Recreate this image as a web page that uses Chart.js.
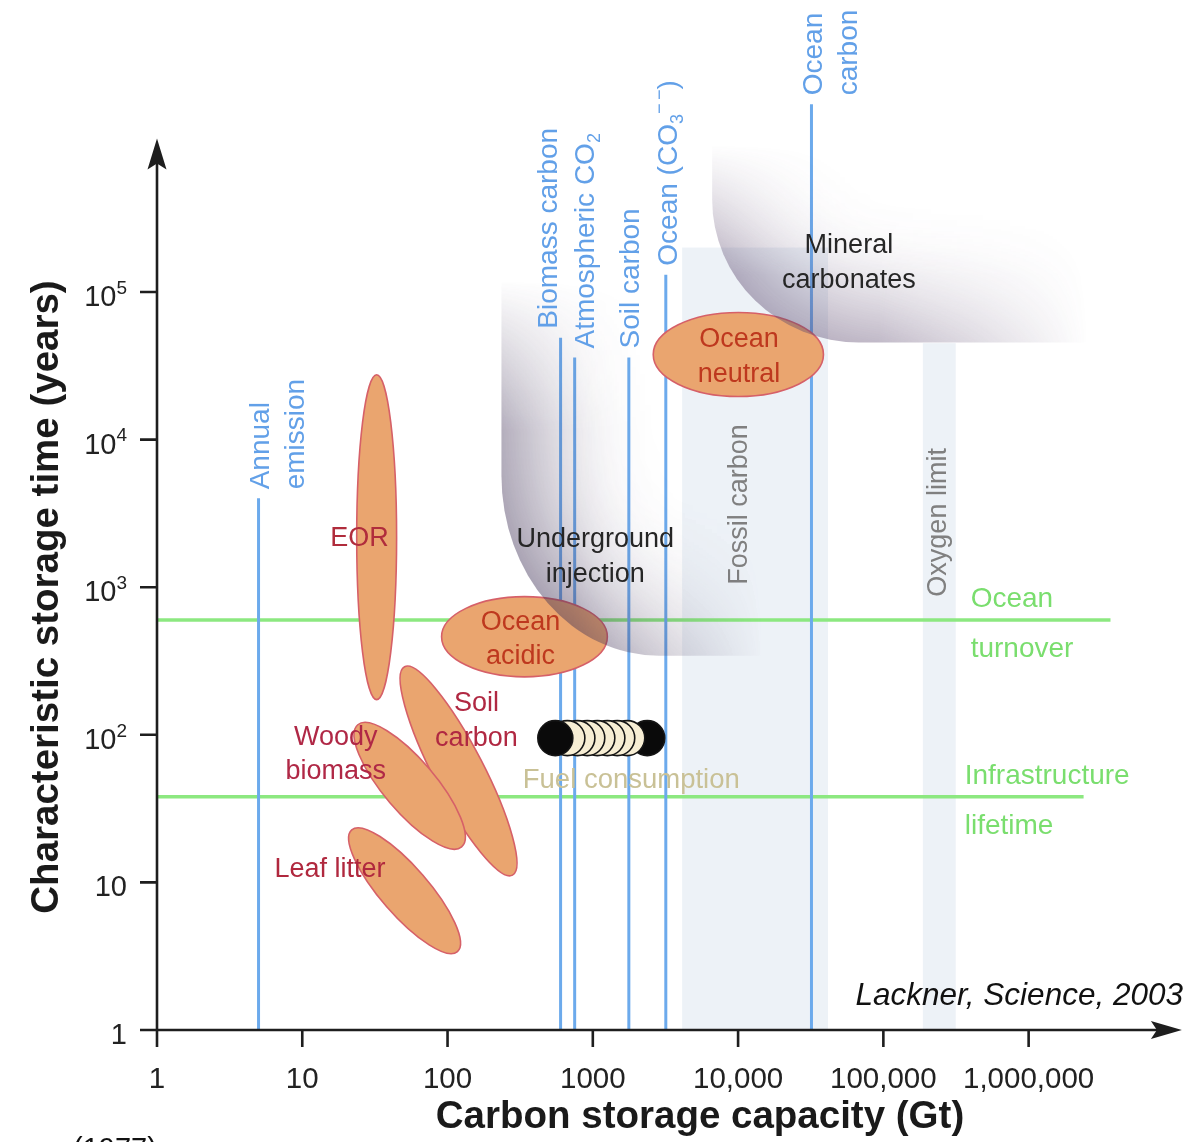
<!DOCTYPE html>
<html>
<head>
<meta charset="utf-8">
<title>Carbon storage capacity vs. storage time</title>
<script src="https://cdn.jsdelivr.net/npm/chart.js@4.4.1/dist/chart.umd.min.js"></script>
<style>
  html, body { margin: 0; padding: 0; background: #fff; overflow: hidden; }
  canvas { display: block; }
</style>
</head>
<body>
<canvas id="chart" width="1193" height="1142"></canvas>
<script>
// Carbon reservoirs and storage options: capacity (Gt C) against characteristic storage time (years)

// Axis ticks
const xTickValues = [1, 10, 100, 1000, 10000, 100000, 1000000];
const xTickLabels = ['1', '10', '100', '1000', '10,000', '100,000', '1,000,000'];
const yTickValues = [1, 10, 100, 1000, 10000, 100000];
const yTickBase = ['1', '10', '10', '10', '10', '10'];
const yTickPower = ['', '', '2', '3', '4', '5'];

// Natural carbon pools: size (Gt) and how far up their marker reaches (years)
const poolNames = ['Annual emission', 'Biomass carbon', 'Atmospheric CO2', 'Soil carbon', 'Ocean (CO3--)', 'Ocean carbon'];
const poolCapacity = [5, 600, 750, 1770, 3180, 32000];
const poolLineTop = [4000, 49000, 36000, 36000, 131000, 1870000];

// Reference time scales (years)
const timeScaleNames = ['Ocean turnover', 'Infrastructure lifetime'];
const timeScaleYears = [600, 38];
const timeScaleReach = [3660000, 2390000];

// Resource limits: capacity range (Gt) and time ceiling (years)
const limitNames = ['Fossil carbon', 'Oxygen limit'];
const limitFrom = [4120, 187000];
const limitTo = [41600, 315000];
const limitTop = [200000, 45000];

// Storage options with upright ovals: capacity range and time range
const ovalNames = ['EOR', 'Ocean acidic', 'Ocean neutral'];
const ovalCapMin = [23.7, 91, 2606];
const ovalCapMax = [44.6, 1259, 38700];
const ovalTimeMin = [173, 247, 19600];
const ovalTimeMax = [27500, 863, 72600];

// Storage options with tilted ovals: the two ends of the long axis
const slantNames = ['Soil carbon', 'Woody biomass', 'Leaf litter'];
const slantCapA = [50.6, 24.1, 21.9];
const slantTimeA = [289, 117, 22.7];
const slantCapB = [280, 125, 117];
const slantTimeB = [11.2, 17.4, 3.4];

// Open-ended options: capacity / time where the shaded corner starts, bends and ends
const regionNames = ['Underground injection', 'Mineral carbonates'];
const regionCapMin = [235, 6630];
const regionCapBend = [2865, 67900];
const regionCapMax = [15100, 2580000];
const regionTimeMin = [343, 45500];
const regionTimeBend = [5700, 424000];
const regionTimeMax = [120600, 1000000];

// Fuel consumption discs (Gt burned, drawn back to front)
const fuelCapacity = [2370, 1727, 1473, 1259, 1074, 916, 783, 668, 552];
const fuelTime = [95, 95, 95, 95, 95, 95, 95, 95, 95];
const fuelKind = ['end', 'step', 'step', 'step', 'step', 'step', 'step', 'step', 'end'];

// ---------------------------------------------------------------- styles
const FONT = '"Liberation Sans", Arial, Helvetica, sans-serif';
const BLUE = 'rgb(108,170,236)';
const BLUE_TEXT = 'rgb(98,160,232)';
const GREEN = 'rgb(140,232,128)';
const GREEN_TEXT = 'rgb(122,222,110)';
const OVAL_FILL = 'rgb(234,165,111)';
const OVAL_EDGE = 'rgb(214,96,104)';
const BAND_FILL = 'rgba(228,235,242,0.65)';
const AXIS = '#1e1e1e';

// Text annotations anchored in data units (capacity, time)
const annotations = [
  { lines: ['Mineral', 'carbonates'], x: 57900, y: 163000, color: '#262626' },
  { lines: ['Underground', 'injection'], x: 1040, y: 1660, color: '#262626' },
  { lines: ['Ocean', 'neutral'], x: 10160, y: 37700, color: 'rgb(190,56,30)' },
  { lines: ['Ocean', 'acidic'], x: 318, y: 458, color: 'rgb(190,56,30)' },
  { lines: ['EOR'], x: 24.8, y: 2200, color: 'rgb(176,44,60)' },
  { lines: ['Soil', 'carbon'], x: 158, y: 128, color: 'rgb(176,40,66)' },
  { lines: ['Woody', 'biomass'], x: 17, y: 76, color: 'rgb(176,40,70)' },
  { lines: ['Leaf litter'], x: 15.5, y: 12.7, color: 'rgb(176,40,62)' },
  { lines: ['Fuel consumption'], x: 1840, y: 51, color: 'rgb(201,193,150)', size: 27.5 }
];

// Rotated pool captions: text pieces per column
const poolCaptions = [
  [[{ t: 'Annual' }], [{ t: 'emission' }]],
  [[{ t: 'Biomass carbon' }]],
  [[{ t: 'Atmospheric CO' }, { t: '2', sub: true }]],
  [[{ t: 'Soil carbon' }]],
  [[{ t: 'Ocean (CO' }, { t: '3', sub: true }, { t: '\u2212\u2009\u2212', sup: true }, { t: ')' }]],
  [[{ t: 'Ocean' }], [{ t: 'carbon' }]]
];
const poolCaptionShift = [0, -14, 9, 0, 1, 1];

const limitCaptionX = [9840, 229000];
const limitCaptionBottom = [1040, 863];

const timeScaleCaptions = [['Ocean', 'turnover'], ['Infrastructure', 'lifetime']];
const timeScaleCaptionX = [399000, 363000];

const slantHalfWidth = [25, 26, 24];
const regionShade = {
  color: ['rgb(66,52,88)', 'rgb(92,72,110)'],
  blur: [72, 66],
  alpha: [0.78, 0.72],
  fadeTop: [150, 130],
  fadeRight: [190, 210]
};

// ---------------------------------------------------------------- helpers
function richText(ctx, parts, x, y, size, align, extra) {
  const pre = extra || '';
  const small = Math.round(size * 0.66);
  const fontFor = p => `${pre} ${(p.sub || p.sup) ? small : size}px ${FONT}`;
  let total = 0;
  parts.forEach(p => { ctx.font = fontFor(p); total += ctx.measureText(p.t).width; });
  let cx = align === 'center' ? x - total / 2 : align === 'right' ? x - total : x;
  ctx.textAlign = 'left';
  ctx.textBaseline = 'alphabetic';
  parts.forEach(p => {
    ctx.font = fontFor(p);
    const dy = p.sub ? size * 0.22 : p.sup ? -size * 0.42 : 0;
    ctx.fillText(p.t, cx, y + dy);
    cx += ctx.measureText(p.t).width;
  });
}

// Soft corner-shaped region: darkest along its curved outer edge, fading inward
function drawRegion(chart, i) {
  const ctx = chart.ctx;
  const sx = v => chart.scales.x.getPixelForValue(v);
  const sy = v => chart.scales.y.getPixelForValue(v);
  const W = chart.width, H = chart.height;
  const M = 400;
  const xL = sx(regionCapMin[i]) + M, xB = sx(regionCapBend[i]) + M, xR = sx(regionCapMax[i]) + M;
  const yB = sy(regionTimeMin[i]) + M, yK = sy(regionTimeBend[i]) + M, yT = sy(regionTimeMax[i]) + M;
  const CW = W + 2 * M, CH = H + 2 * M;

  const trace = c => {
    c.moveTo(xL, -10);
    c.lineTo(xL, yK);
    c.ellipse(xB, yK, xB - xL, yB - yK, 0, Math.PI, Math.PI / 2, true);
    c.lineTo(CW + 10, yB);
    c.lineTo(CW + 10, -10);
    c.closePath();
  };

  // everything outside the region, solid
  const outside = document.createElement('canvas');
  outside.width = CW; outside.height = CH;
  const a = outside.getContext('2d');
  a.fillStyle = regionShade.color[i];
  a.beginPath();
  a.rect(0, 0, CW, CH);
  trace(a);
  a.fill('evenodd');

  // blur it and keep only the part that bleeds into the region
  const soft = document.createElement('canvas');
  soft.width = CW; soft.height = CH;
  const o = soft.getContext('2d');
  o.filter = `blur(${regionShade.blur[i]}px)`;
  o.drawImage(outside, 0, 0);
  o.filter = 'none';
  o.globalCompositeOperation = 'destination-in';
  o.fillStyle = '#000';
  o.beginPath(); trace(o); o.fill();

  // fade the open ends
  let g = o.createLinearGradient(0, yT, 0, yT + regionShade.fadeTop[i]);
  g.addColorStop(0, 'rgba(0,0,0,0)'); g.addColorStop(1, 'rgba(0,0,0,1)');
  o.fillStyle = g; o.fillRect(0, 0, CW, CH);
  g = o.createLinearGradient(xR - regionShade.fadeRight[i], 0, xR, 0);
  g.addColorStop(0, 'rgba(0,0,0,1)'); g.addColorStop(1, 'rgba(0,0,0,0)');
  o.fillStyle = g; o.fillRect(0, 0, CW, CH);

  ctx.save();
  ctx.globalAlpha = regionShade.alpha[i];
  ctx.drawImage(soft, -M, -M);
  ctx.restore();
}

// ---------------------------------------------------------------- plugin
const storagePlot = {
  id: 'storagePlot',
  beforeDatasetsDraw(chart) {
    const ctx = chart.ctx;
    const sx = v => chart.scales.x.getPixelForValue(v);
    const sy = v => chart.scales.y.getPixelForValue(v);
    ctx.save();
    ctx.fillStyle = BAND_FILL;
    limitNames.forEach((n, i) => {
      const x0 = sx(limitFrom[i]), x1 = sx(limitTo[i]);
      const y0 = sy(1), y1 = sy(limitTop[i]);
      ctx.fillRect(x0, y1, x1 - x0, y0 - y1);
    });
    // band captions
    ctx.fillStyle = 'rgb(128,128,128)';
    limitNames.forEach((n, i) => {
      ctx.save();
      ctx.translate(sx(limitCaptionX[i]) + 10, sy(limitCaptionBottom[i]));
      ctx.rotate(-Math.PI / 2);
      richText(ctx, [{ t: n }], 0, 0, 27, 'left');
      ctx.restore();
    });
    ctx.restore();
  },
  afterDatasetsDraw(chart) {
    const ctx = chart.ctx;
    const sx = v => chart.scales.x.getPixelForValue(v);
    const sy = v => chart.scales.y.getPixelForValue(v);
    ctx.save();

    // ovals
    const paintOval = (cx, cy, rx, ry, rot) => {
      ctx.beginPath();
      ctx.ellipse(cx, cy, rx, ry, rot, 0, Math.PI * 2);
      ctx.fillStyle = OVAL_FILL;
      ctx.fill();
      ctx.lineWidth = 1.6;
      ctx.strokeStyle = OVAL_EDGE;
      ctx.stroke();
    };
    ovalNames.forEach((n, i) => {
      const x0 = sx(ovalCapMin[i]), x1 = sx(ovalCapMax[i]);
      const y0 = sy(ovalTimeMin[i]), y1 = sy(ovalTimeMax[i]);
      paintOval((x0 + x1) / 2, (y0 + y1) / 2, (x1 - x0) / 2, (y0 - y1) / 2, 0);
    });
    slantNames.forEach((n, i) => {
      const ax = sx(slantCapA[i]), ay = sy(slantTimeA[i]);
      const bx = sx(slantCapB[i]), by = sy(slantTimeB[i]);
      const len = Math.hypot(bx - ax, by - ay) / 2;
      paintOval((ax + bx) / 2, (ay + by) / 2, len, slantHalfWidth[i], Math.atan2(by - ay, bx - ax));
    });

    // open-ended shaded regions
    regionNames.forEach((n, i) => drawRegion(chart, i));

    // pool captions above the blue lines
    ctx.fillStyle = BLUE_TEXT;
    poolCaptions.forEach((cols, i) => {
      const x = sx(poolCapacity[i]) + poolCaptionShift[i];
      const yb = sy(poolLineTop[i]) - 9;
      cols.forEach((parts, k) => {
        ctx.save();
        ctx.translate(x + k * 35 + 10, yb);
        ctx.rotate(-Math.PI / 2);
        richText(ctx, parts, 0, 0, 28, 'left');
        ctx.restore();
      });
    });

    // time-scale captions straddling the green lines
    ctx.fillStyle = GREEN_TEXT;
    timeScaleCaptions.forEach((lines, i) => {
      const x = sx(timeScaleCaptionX[i]);
      const y = sy(timeScaleYears[i]);
      richText(ctx, [{ t: lines[0] }], x, y - 23 + 10, 28, 'left');
      richText(ctx, [{ t: lines[1] }], x, y + 27 + 10, 28, 'left');
    });

    // option labels
    annotations.forEach(a => {
      const size = a.size || 27;
      const cx = sx(a.x), cy = sy(a.y);
      const gap = 34.5;
      const start = cy - gap * (a.lines.length - 1) / 2;
      ctx.fillStyle = a.color;
      a.lines.forEach((s, k) => richText(ctx, [{ t: s }], cx, start + k * gap + size * 0.36, size, 'center'));
    });
    ctx.restore();
  },
  afterDraw(chart) {
    const ctx = chart.ctx;
    const sx = v => chart.scales.x.getPixelForValue(v);
    const sy = v => chart.scales.y.getPixelForValue(v);
    const x0 = sx(1), y0 = sy(1);
    const topY = chart.chartArea.top - 6;
    const rightX = chart.chartArea.right + 8;
    ctx.save();
    ctx.strokeStyle = AXIS;
    ctx.fillStyle = AXIS;
    ctx.lineWidth = 2.6;
    ctx.lineCap = 'butt';
    ctx.beginPath();
    ctx.moveTo(x0, y0 + 17); ctx.lineTo(x0, topY + 24);
    ctx.moveTo(x0 - 17, y0); ctx.lineTo(rightX - 24, y0);
    yTickValues.forEach(v => { const y = sy(v); ctx.moveTo(x0 - 17, y); ctx.lineTo(x0, y); });
    xTickValues.forEach(v => { const x = sx(v); ctx.moveTo(x, y0); ctx.lineTo(x, y0 + 17); });
    ctx.stroke();
    // arrowheads
    ctx.beginPath();
    ctx.moveTo(x0, topY); ctx.lineTo(x0 - 9.5, topY + 31); ctx.lineTo(x0, topY + 25); ctx.lineTo(x0 + 9.5, topY + 31);
    ctx.closePath(); ctx.fill();
    ctx.beginPath();
    ctx.moveTo(rightX, y0); ctx.lineTo(rightX - 31, y0 - 9); ctx.lineTo(rightX - 25, y0); ctx.lineTo(rightX - 31, y0 + 9);
    ctx.closePath(); ctx.fill();

    // tick labels
    ctx.fillStyle = '#222';
    xTickValues.forEach((v, i) => richText(ctx, [{ t: xTickLabels[i] }], sx(v), y0 + 58, 29.5, 'center'));
    yTickValues.forEach((v, i) => {
      const parts = [{ t: yTickBase[i] }];
      if (yTickPower[i]) parts.push({ t: yTickPower[i], sup: true });
      richText(ctx, parts, x0 - 30, sy(v) + 14, 29, 'right');
    });

    // axis titles
    ctx.fillStyle = '#1a1a1a';
    richText(ctx, [{ t: 'Carbon storage capacity (Gt)' }], 700, 1128, 38.5, 'center', 'bold');
    ctx.save();
    ctx.translate(58, 597);
    ctx.rotate(-Math.PI / 2);
    richText(ctx, [{ t: 'Characteristic storage time (years)' }], 0, 0, 38.5, 'center', 'bold');
    ctx.restore();

    // source note
    ctx.fillStyle = '#111';
    richText(ctx, [{ t: 'Lackner, Science, 2003' }], 1183, 1005, 31.5, 'right', 'italic');
    richText(ctx, [{ t: '(1977)' }], 73, 1158, 29, 'left');
    ctx.restore();
  }
};

// ---------------------------------------------------------------- datasets
const datasets = [];
datasets.push({
  label: 'Fuel consumption',
  type: 'scatter',
  data: fuelCapacity.map((c, i) => ({ x: c, y: fuelTime[i] })),
  pointRadius: 17.5,
  pointBackgroundColor: fuelKind.map(k => k === 'end' ? '#0a0a0a' : 'rgb(247,238,212)'),
  pointBorderColor: '#151515',
  pointBorderWidth: 1.6,
  order: 0
});
poolCapacity.forEach((c, i) => datasets.push({
  label: poolNames[i],
  type: 'line',
  data: [{ x: c, y: 1 }, { x: c, y: poolLineTop[i] }],
  borderColor: BLUE,
  borderWidth: 3,
  pointRadius: 0,
  clip: false,
  order: 2
}));
timeScaleYears.forEach((t, i) => datasets.push({
  label: timeScaleNames[i],
  type: 'line',
  data: [{ x: 1, y: t }, { x: timeScaleReach[i], y: t }],
  borderColor: GREEN,
  borderWidth: 3.5,
  pointRadius: 0,
  clip: false,
  order: 3
}));

new Chart(document.getElementById('chart'), {
  type: 'scatter',
  data: { datasets },
  options: {
    responsive: false,
    animation: false,
    devicePixelRatio: 1,
    events: [],
    layout: { padding: { left: 157, right: 17.5, top: 144.4, bottom: 112 } },
    plugins: { legend: { display: false }, tooltip: { enabled: false }, title: { display: false } },
    elements: { line: { tension: 0 } },
    scales: {
      x: { type: 'logarithmic', min: 1, max: 10000000, display: false },
      y: { type: 'logarithmic', min: 1, max: 1000000, display: false }
    }
  },
  plugins: [storagePlot]
});
</script>
</body>
</html>
